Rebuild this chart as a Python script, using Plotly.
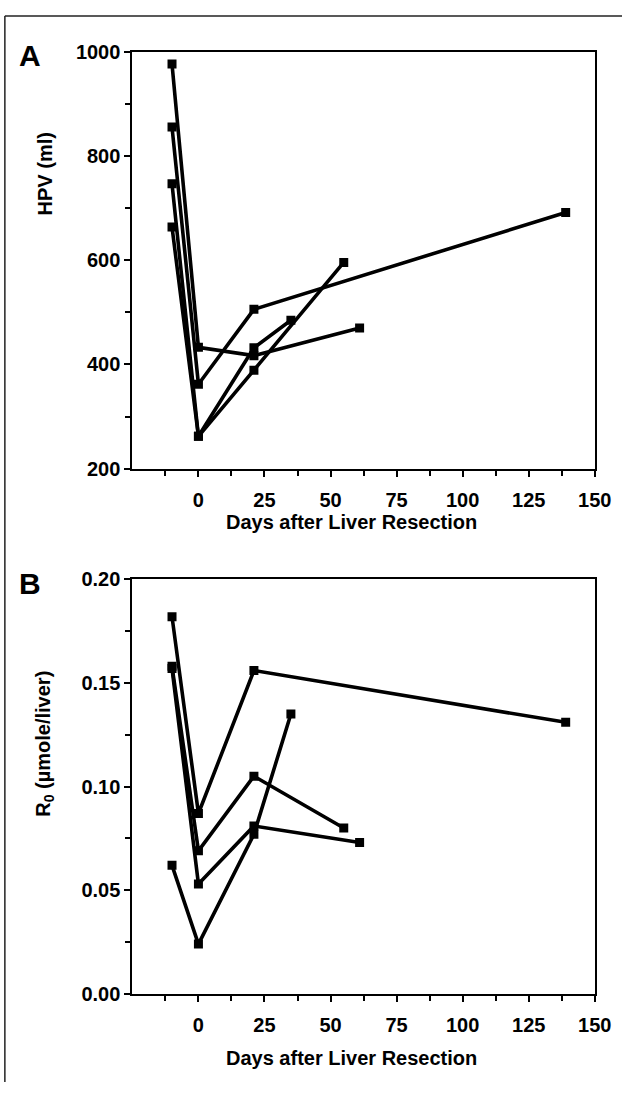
import plotly.graph_objects as go

W, H = 639, 1093

# ---- data ----
days_p1 = [-10, 0, 21, 139]
days_p2 = [-10, 0, 21, 55]
days_p3 = [-10, 0, 21, 61]
days_p4 = [-10, 0, 21, 35]

hpv_p1 = [856, 362, 506, 692]
hpv_p2 = [747, 262, 389, 596]
hpv_p3 = [977, 433, 417, 470]
hpv_p4 = [664, 262, 432, 485]

r0_p1 = [0.182, 0.087, 0.156, 0.131]
r0_p2 = [0.158, 0.069, 0.105, 0.080]
r0_p3 = [0.157, 0.053, 0.081, 0.073]
r0_p4 = [0.062, 0.024, 0.077, 0.135]

x_ticks = [0, 25, 50, 75, 100, 125, 150]
x_minor = [-12.5, 12.5, 37.5, 62.5, 87.5, 112.5, 137.5]
hpv_ticks = [200, 400, 600, 800, 1000]
hpv_minor = [300, 500, 700, 900]
r0_ticks = [0.00, 0.05, 0.10, 0.15, 0.20]
r0_minor = [0.025, 0.075, 0.125, 0.175]

x_title = "Days after Liver Resection"
hpv_title = "HPV (ml)"
r0_title = "R<sub>0</sub> (µmole/liver)"

# ---- layout helpers (pixel -> paper) ----
def px(x):
    return x / W

def py(y):
    return 1 - y / H

FONT = "Liberation Sans"
tickfont = dict(family=FONT, size=20, color="black", weight="bold")

fig = go.Figure()
for d, v in [(days_p1, hpv_p1), (days_p2, hpv_p2), (days_p3, hpv_p3), (days_p4, hpv_p4)]:
    fig.add_trace(go.Scatter(x=d, y=v, mode="lines+markers", xaxis="x", yaxis="y",
                             line=dict(color="black", width=3.6),
                             marker=dict(symbol="square", size=9, color="black"),
                             showlegend=False))
for d, v in [(days_p1, r0_p1), (days_p2, r0_p2), (days_p3, r0_p3), (days_p4, r0_p4)]:
    fig.add_trace(go.Scatter(x=d, y=v, mode="lines+markers", xaxis="x2", yaxis="y2",
                             line=dict(color="black", width=3.6),
                             marker=dict(symbol="square", size=9, color="black"),
                             showlegend=False))

common_axis = dict(showline=True, linecolor="black", linewidth=2, mirror=True,
                   ticks="outside", ticklen=6, tickwidth=2, tickcolor="black",
                   showgrid=False, zeroline=False, tickfont=tickfont)

xdom = [px(136), px(611)]
xa = dict(common_axis, range=[-25, 150], domain=xdom, tickmode="array", tickvals=x_ticks,
          ticklabelstandoff=6,
          minor=dict(tickmode="array", tickvals=x_minor, ticks="outside", ticklen=5,
                     tickwidth=1.5, tickcolor="black", showgrid=False))

fig.update_layout(
    width=W, height=H, margin=dict(l=0, r=0, t=0, b=0),
    paper_bgcolor="white", plot_bgcolor="white",
    xaxis=dict(xa, anchor="y"),
    yaxis=dict(common_axis, range=[200, 1000], domain=[py(467), py(42)], anchor="x",
               tickmode="array", tickvals=hpv_ticks,
               minor=dict(tickmode="array", tickvals=hpv_minor, ticks="outside", ticklen=5,
                          tickwidth=1.5, tickcolor="black", showgrid=False)),
    xaxis2=dict(xa, anchor="y2"),
    yaxis2=dict(common_axis, range=[0, 0.20], domain=[py(1003), py(580)], anchor="x2",
                tickmode="array", tickvals=r0_ticks, tickformat=".2f",
                minor=dict(tickmode="array", tickvals=r0_minor, ticks="outside", ticklen=5,
                           tickwidth=1.5, tickcolor="black", showgrid=False)),
)

titlefont = dict(family=FONT, size=20, color="black", weight="bold")
letterfont = dict(family=FONT, size=30, color="black", weight="bold")
ann = [
    dict(text="A", x=px(31), y=py(45), font=letterfont),
    dict(text="B", x=px(31), y=py(584), font=letterfont),
    dict(text=x_title, x=px(361), y=py(522), font=titlefont),
    dict(text=x_title, x=px(361), y=py(1068), font=titlefont),
    dict(text=hpv_title, x=px(46), y=py(166), font=titlefont, textangle=-90),
    dict(text=r0_title, x=px(46), y=py(748), font=titlefont, textangle=-90),
]
for a in ann:
    fig.add_annotation(xref="paper", yref="paper", showarrow=False,
                       xanchor="center", yanchor="middle", **a)

# outer frame (top and left edges)
fig.add_shape(type="line", xref="paper", yref="paper", x0=px(5), x1=1, y0=py(5), y1=py(5),
              line=dict(color="#222", width=1.5))
fig.add_shape(type="line", xref="paper", yref="paper", x0=px(5), x1=px(5), y0=0, y1=py(5),
              line=dict(color="#222", width=1.5))

fig.write_html("out.html")
